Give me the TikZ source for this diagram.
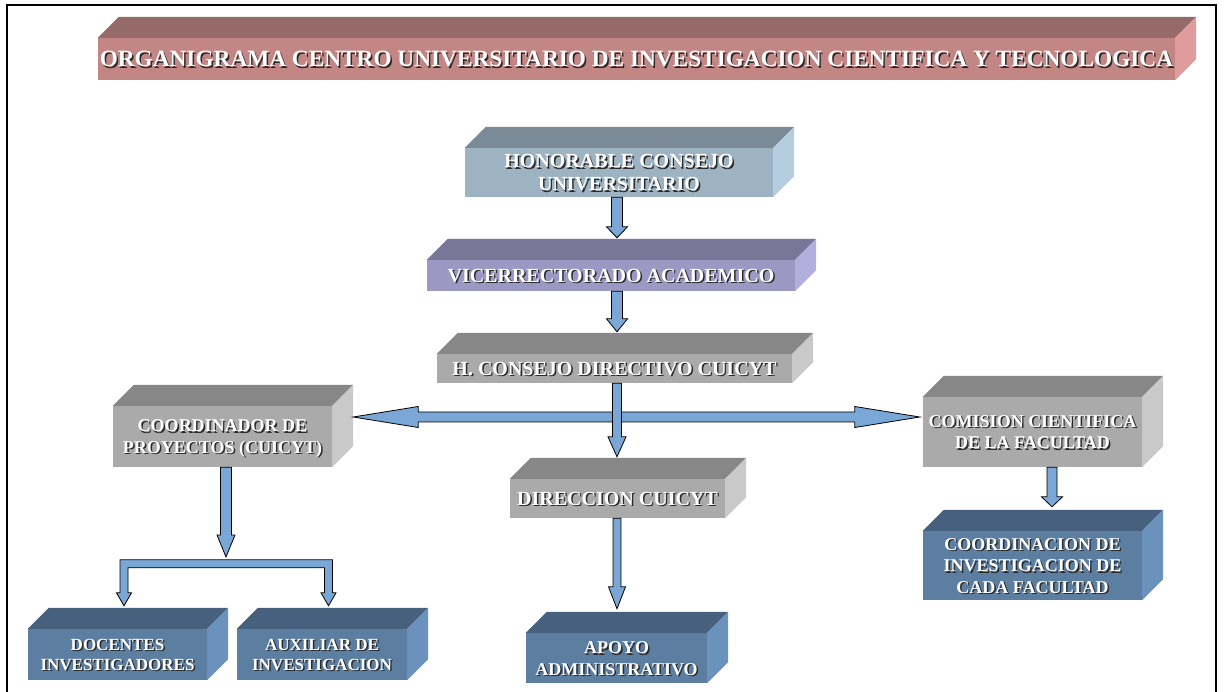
\documentclass[tikz,border=0pt]{standalone}
\usepackage{fontspec}
\setmainfont{Liberation Serif}
\usetikzlibrary{calc}

\definecolor{rosefront}{HTML}{C28785}
\definecolor{rosetop}{HTML}{966A69}
\definecolor{roseside}{HTML}{DE9C9C}
\definecolor{steelfront}{HTML}{9EB3C2}
\definecolor{steeltop}{HTML}{7A8B97}
\definecolor{steelside}{HTML}{B4CEDF}
\definecolor{lilacfront}{HTML}{9C98C4}
\definecolor{lilactop}{HTML}{7A7698}
\definecolor{lilacside}{HTML}{B2AEDE}
\definecolor{greyfront}{HTML}{AAAAAA}
\definecolor{greytop}{HTML}{878787}
\definecolor{greyside}{HTML}{C9C9C9}
\definecolor{navyfront}{HTML}{5B7EA1}
\definecolor{navytop}{HTML}{46607E}
\definecolor{navyside}{HTML}{6A92BC}
\definecolor{arrowblue}{HTML}{7AA7D6}
\definecolor{txtshadow}{HTML}{2A2A2A}

% white text with a dark shadow
\newcommand{\embossed}[1]{\raisebox{-0.15em}[\height][\depth]{\rlap{\kern1.5pt\raisebox{-1.5pt}{\color{txtshadow}\begin{tabular}{@{}c@{}}#1\end{tabular}}}\begin{tabular}{@{}c@{}}#1\end{tabular}}}

% block arrow pointing down: start, tip, shaft half width, head half width, head length
\newcommand{\vflecha}[5]{\draw[barrow] ($(#1)+(-#3,0)$) -- ($(#2)+(-#3,#5)$) -- ($(#2)+(-#4,#5)$) -- (#2) -- ($(#2)+(#4,#5)$) -- ($(#2)+(#3,#5)$) -- ($(#1)+(#3,0)$) -- cycle;}

\begin{document}
\begin{tikzpicture}[x=1pt,y=1pt]
	\tikzset{cube/.style = {inner sep=0pt, fill=#1front, text=white}}
	\tikzset{txtt/.style = {font=\bfseries\fontsize{23.3}{26}\selectfont}}
	\tikzset{txtl/.style = {font=\bfseries\fontsize{20}{23}\selectfont}}
	\tikzset{txtm/.style = {font=\bfseries\fontsize{18}{21.5}\selectfont}}
	\tikzset{txts/.style = {font=\bfseries\fontsize{17}{20}\selectfont}}
	\tikzset{barrow/.style = {fill=arrowblue, draw=black, line width=0.8pt, line join=miter}}
	\useasboundingbox (0,0) rectangle (1224,-692);
	\draw[line width=2pt] (7,-700) -- (7,-5) -- (1216,-5) -- (1216,-700);
	\node[cube=rose, txtt, minimum width=1077, minimum height=42] (ttl) at (636.5,-59) {\embossed{ORGANIGRAMA CENTRO UNIVERSITARIO DE INVESTIGACION CIENTIFICA Y TECNOLOGICA}};
	\node[cube=steel, txtl, minimum width=308, minimum height=49] (hcu) at (619,-172.5) {\embossed{HONORABLE CONSEJO\\UNIVERSITARIO}};
	\node[cube=lilac, txtl, minimum width=368, minimum height=31] (vic) at (611,-275.5) {\embossed{VICERRECTORADO ACADEMICO}};
	\node[cube=grey, txtl, minimum width=355, minimum height=29] (hcd) at (614.5,-368.5) {\embossed{H. CONSEJO DIRECTIVO CUICYT}};
	\node[cube=grey, txtm, minimum width=219, minimum height=61] (coo) at (222.5,-436.5) {\embossed{COORDINADOR DE\\PROYECTOS (CUICYT)}};
	\node[cube=grey, txtl, minimum width=215, minimum height=39] (dir) at (617.5,-498.5) {\embossed{DIRECCION CUICYT}};
	\node[cube=grey, txtm, minimum width=219, minimum height=70] (com) at (1032.5,-432) {\embossed{COMISION CIENTIFICA\\DE LA FACULTAD}};
	\node[cube=navy, txtm, minimum width=219, minimum height=69] (cif) at (1032.5,-565.5) {\embossed{COORDINACION DE\\INVESTIGACION DE\\CADA FACULTAD}};
	\node[cube=navy, txts, minimum width=179, minimum height=51] (doc) at (117.5,-654.5) {\embossed{DOCENTES\\INVESTIGADORES}};
	\node[cube=navy, txts, minimum width=170, minimum height=51] (aux) at (322,-654.5) {\embossed{AUXILIAR DE\\INVESTIGACION}};
	\node[cube=navy, txtm, minimum width=181, minimum height=50] (apo) at (616.5,-658) {\embossed{APOYO\\ADMINISTRATIVO}};
	% top and side faces
	\foreach \n/\col in {ttl/rose,hcu/steel,vic/lilac,hcd/grey,coo/grey,dir/grey,com/grey,cif/navy,doc/navy,aux/navy,apo/navy}{
		\fill[fill=\col top] (\n.north west) -- ($(\n.north west)+(21,21)$) -- ($(\n.north east)+(21,21)$) -- (\n.north east) -- cycle;
		\fill[fill=\col side] (\n.north east) -- ($(\n.north east)+(21,21)$) -- ($(\n.south east)+(21,21)$) -- (\n.south east) -- cycle;
	}
	% arrows
	\coordinate (ax) at (617,0);
	\coordinate (hy) at (0,-417);
	\coordinate (t1) at ($(ax |- vic.north)+(0,22)$);
	\coordinate (t2) at ($(ax |- hcd.north)+(0,22)$);
	\coordinate (t3) at ($(ax |- dir.north)+(0,22)$);
	\coordinate (t4) at ($(ax |- apo.north)+(0,24)$);
	\coordinate (t5) at ($(cif.north)+(19.5,24)$);
	\coordinate (lt) at ($(coo.east |- hy)+(21,0)$);
	\coordinate (rt) at ($(com.west |- hy)+(-3,0)$);
	\coordinate (ct) at (226,-557);
	\coordinate (dtip) at ($(doc.north)+(6.5,23)$);
	\coordinate (atip) at ($(aux.north)+(6.5,23)$);
	\vflecha{ax |- hcu.south}{t1}{5.5}{10.5}{11}
	\vflecha{ax |- vic.south}{t2}{5.5}{10.5}{13}
	\draw[barrow] (lt) -- ($(lt)+(65,10.5)$) -- ($(lt)+(65,5)$) -- ($(rt)+(-65,5)$) -- ($(rt)+(-65,10.5)$) -- (rt) -- ($(rt)+(-65,-10.5)$) -- ($(rt)+(-65,-5)$) -- ($(lt)+(65,-5)$) -- ($(lt)+(65,-10.5)$) -- cycle;
	\vflecha{ax |- hcd.south}{t3}{4.5}{9}{20}
	\vflecha{ax |- dir.south}{t4}{4}{8.5}{22}
	\vflecha{t5 |- com.south}{t5}{5}{10.5}{10}
	\vflecha{ct |- coo.south}{ct}{5.5}{9}{22}
	\draw[barrow] ($(dtip)+(-4,46)$) -- ($(atip)+(4,46)$) -- ($(atip)+(4,13)$) -- ($(atip)+(7.5,13)$) -- (atip) -- ($(atip)+(-7.5,13)$) -- ($(atip)+(-4,13)$) -- ($(atip)+(-4,38)$) -- ($(dtip)+(4,38)$) -- ($(dtip)+(4,13)$) -- ($(dtip)+(7.5,13)$) -- (dtip) -- ($(dtip)+(-7.5,13)$) -- ($(dtip)+(-4,13)$) -- cycle;
\end{tikzpicture}
\end{document}
